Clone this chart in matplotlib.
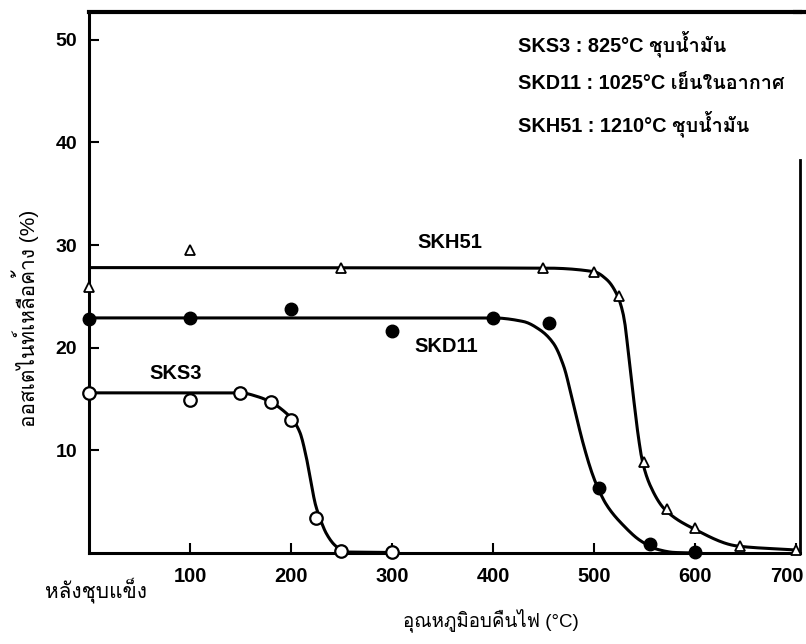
import matplotlib

matplotlib.use("Agg")
import matplotlib.pyplot as plt
import numpy as np
from matplotlib import font_manager
from matplotlib.ft2font import FT2Font
from matplotlib.transforms import ScaledTranslation

# marker readings (tempering temperature, retained austenite %)
sks3_x = [0, 100, 150, 180, 200, 225, 250, 300]
sks3_y = [15.6, 14.9, 15.6, 14.7, 13.0, 3.4, 0.2, 0.1]
skd11_x = [0, 100, 200, 300, 400, 455, 505, 555, 600]
skd11_y = [22.8, 22.9, 23.8, 21.6, 22.9, 22.4, 6.3, 0.9, 0.1]
skh51_x = [0, 100, 250, 450, 500, 525, 550, 572, 600, 645, 700]
skh51_y = [25.9, 29.5, 27.8, 27.8, 27.4, 25.0, 8.9, 4.3, 2.4, 0.7, 0.3]

# hand-drawn fit curves, knots
sks3_cx = [0, 150, 168, 181, 192, 203, 209, 215, 220, 224, 229, 235, 243, 253, 270, 300]
sks3_cy = [15.6, 15.6, 15.2, 14.65, 13.9, 12.8, 11.7, 9.4, 6.8, 4.8, 3.3, 1.9, 0.8, 0.1, 0.08, 0.05]
skd11_cx = [0, 400, 430, 447, 460, 470, 480, 490, 498, 504, 513, 529, 546, 563, 580, 600]
skd11_cy = [22.9, 22.9, 22.55, 21.7, 20.4, 18.2, 14.3, 10.4, 7.8, 6.3, 4.6, 2.7, 1.2, 0.35, 0.05, 0.0]
skh51_cx = [0, 453, 500, 513, 523.5, 529.5, 534.5, 539.4, 544.4, 548, 556, 570, 598, 642, 699]
skh51_cy = [27.8, 27.75, 27.4, 26.6, 25.0, 23.0, 19.1, 14.9, 11.0, 8.9, 6.5, 4.26, 2.4, 0.68, 0.3]

x_ticks = [100, 200, 300, 400, 500, 600, 700]
y_ticks = [10, 20, 30, 40, 50]
notes = [
    "SKS3 : 825°C ชุบน้ำมัน",
    "SKD11 : 1025°C เย็นในอากาศ",
    "SKH51 : 1210°C ชุบน้ำมัน",
]


def _thai_family() -> str:
    preferred = []
    for entry in font_manager.fontManager.ttflist:
        try:
            if 0x0E01 in FT2Font(entry.fname).get_charmap():
                preferred.append(entry.name)
        except Exception:
            continue
    for name in preferred:
        if "Sans" in name or "Loma" in name or "Garuda" in name:
            return name
    return preferred[0] if preferred else "DejaVu Sans"


def _pchip(xs, ys, n=400):
    x = np.asarray(xs, float)
    y = np.asarray(ys, float)
    h = np.diff(x)
    d = np.diff(y) / h
    m = np.zeros_like(y)
    for i in range(1, len(x) - 1):
        if d[i - 1] * d[i] > 0:
            w1 = 2 * h[i] + h[i - 1]
            w2 = h[i] + 2 * h[i - 1]
            m[i] = (w1 + w2) / (w1 / d[i - 1] + w2 / d[i])
    m[0], m[-1] = d[0], d[-1]
    xx = np.linspace(x[0], x[-1], n)
    k = np.clip(np.searchsorted(x, xx) - 1, 0, len(x) - 2)
    t = (xx - x[k]) / h[k]
    h00 = 2 * t**3 - 3 * t**2 + 1
    h10 = t**3 - 2 * t**2 + t
    h01 = -2 * t**3 + 3 * t**2
    h11 = t**3 - t**2
    yy = h00 * y[k] + h10 * h[k] * m[k] + h01 * y[k + 1] + h11 * h[k] * m[k + 1]
    return xx, yy


thai = _thai_family()
plt.rcParams["font.family"] = ["Liberation Sans", thai, "DejaVu Sans"]

fig = plt.figure(figsize=(8.06, 6.44), dpi=100)
ax = fig.add_axes([0.1104, 0.1413, 0.8822, 0.8401])
ax.set_xlim(0, 704)
ax.set_ylim(0, 52.7)

lw = 2.2
for cx, cy in ((sks3_cx, sks3_cy), (skd11_cx, skd11_cy), (skh51_cx, skh51_cy)):
    xx, yy = _pchip(cx, cy)
    ax.plot(xx, yy, color="black", linewidth=lw, zorder=2)

ax.plot(sks3_x, sks3_y, "o", ms=9, mfc="white", mec="black", mew=1.6, zorder=3, clip_on=False)
ax.plot(skd11_x, skd11_y, "o", ms=9, mfc="black", mec="black", zorder=3, clip_on=False)
ax.plot(skh51_x, skh51_y, "^", ms=7.5, mfc="white", mec="black", mew=1.3, zorder=3, clip_on=False)

ax.text(325, 30.2, "SKH51", fontsize=14.5, fontweight="bold", va="center")
ax.text(322, 20.1, "SKD11", fontsize=14.5, fontweight="bold", va="center")
ax.text(60, 17.5, "SKS3", fontsize=14.5, fontweight="bold", va="center")
for i, line in enumerate(notes):
    ax.text(425, 49.6 - 3.9 * i, line, fontsize=14.3, fontweight="bold",
            va="center", clip_on=False)

ax.set_xticks(x_ticks)
ax.set_xticklabels([str(v) for v in x_ticks], fontsize=14.5, fontweight="bold")
ax.set_yticks(y_ticks)
ax.set_yticklabels([str(v) for v in y_ticks], fontsize=14, fontweight="bold")
ax.tick_params(axis="x", direction="in", length=7, width=1.5, pad=10)
ax.tick_params(axis="y", direction="in", length=7, width=1.5, pad=8.5)
last = ax.get_xticklabels()[-1]
last.set_transform(last.get_transform() + ScaledTranslation(-0.09, 0, fig.dpi_scale_trans))

for side in ("left", "bottom"):
    ax.spines[side].set_linewidth(2.2)
ax.spines["top"].set_linewidth(3)
ax.spines["right"].set_linewidth(2)
ax.spines["right"].set_bounds(0, 38.3)
ax.plot([0.99, 1.02], [1, 1], transform=ax.transAxes, color="black", lw=3,
        clip_on=False, solid_capstyle="butt")

ax.text(-43.5, -3.6, "หลังชุบแข็ง", fontsize=15, va="center", ha="left", clip_on=False)
fig.text(491 / 806, 1 - 620 / 644, "อุณหภูมิอบคืนไฟ (°C)", fontsize=13.5,
         ha="center", va="center")
fig.text(25 / 806, 1 - 318 / 644, "ออสเตไนท์เหลือค้าง (%)", fontsize=15,
         rotation=90, ha="center", va="center")

fig.savefig("out.png", dpi=100)
